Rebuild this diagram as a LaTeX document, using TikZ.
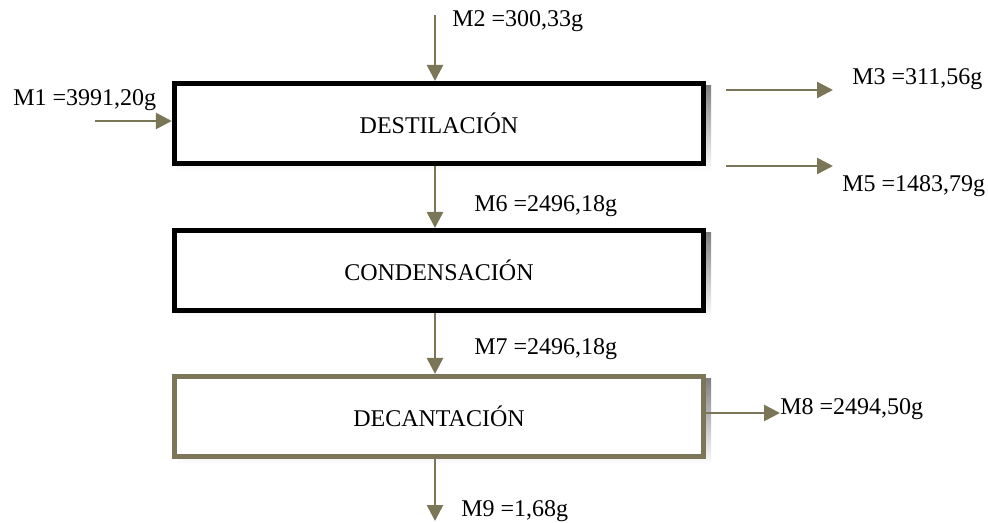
\documentclass[tikz,border=0pt]{standalone}
\usepackage{fontspec}
\setmainfont{Liberation Serif}
\usetikzlibrary{arrows.meta}
\definecolor{olive}{HTML}{7B7658}
\definecolor{shade}{HTML}{C4C2B2}
\tikzset{
  procbox/.style={draw=#1, line width=3.8pt, fill=white, minimum width=397pt, minimum height=60pt, inner sep=0pt, font=\fontsize{18}{20}\selectfont},
  flow/.style={draw=olive, line width=2pt, -{Triangle[length=12pt,width=12pt]}},
  lbl/.style={anchor=base west, inner sep=0pt, font=\fontsize{18}{20}\selectfont}
}
\begin{document}
\begin{tikzpicture}[x=0.75pt,y=-0.75pt]
\useasboundingbox (0,0) rectangle (988,523);
% shadows
\fill[shade] (177,86) rectangle (711,171);
\fill[shade] (177,233) rectangle (711,318);
\fill[shade] (177,379) rectangle (711,464);
\node[procbox=black] (D) at (439,123.5) {DESTILACIÓN};
\node[procbox=black] (C) at (439,270.5) {CONDENSACIÓN};
\node[procbox=olive] (De) at (439,416.5) {DECANTACIÓN};
\coordinate (ax) at (435,0);
\coordinate (m2s) at (435,15);
\coordinate (m1s) at (95,121);
\coordinate (m3s) at (726,90);
\coordinate (m3e) at (833,90);
\coordinate (m5s) at (726,166);
\coordinate (m5e) at (833,166);
\coordinate (m8e) at (780,413);
\coordinate (m9e) at (435,521);
\draw[flow] (m2s) -- (m2s |- D.north);
\draw[flow] (m1s) -- (D.west |- m1s);
\draw[flow] (m3s) -- (m3e);
\draw[flow] (m5s) -- (m5e);
\draw[flow] (ax |- D.south) -- (ax |- C.north);
\draw[flow] (ax |- C.south) -- (ax |- De.north);
\draw[flow] (De.east |- m8e) -- (m8e);
\draw[flow] (ax |- De.south) -- (m9e);
\node[lbl] (l1) at (13,106) {M1 =3991,20g};
\node[lbl] (l2) at (452,27) {M2 =300,33g};
\node[lbl] (l3) at (852,85) {M3 =311,56g};
\node[lbl] (l5) at (842,192) {M5 =1483,79g};
\node[lbl] (l6) at (474,212) {M6 =2496,18g};
\node[lbl] (l7) at (474,355) {M7 =2496,18g};
\node[lbl] (l8) at (780,415) {M8 =2494,50g};
\node[lbl] (l9) at (461,516) {M9 =1,68g};
\end{tikzpicture}
\end{document}
